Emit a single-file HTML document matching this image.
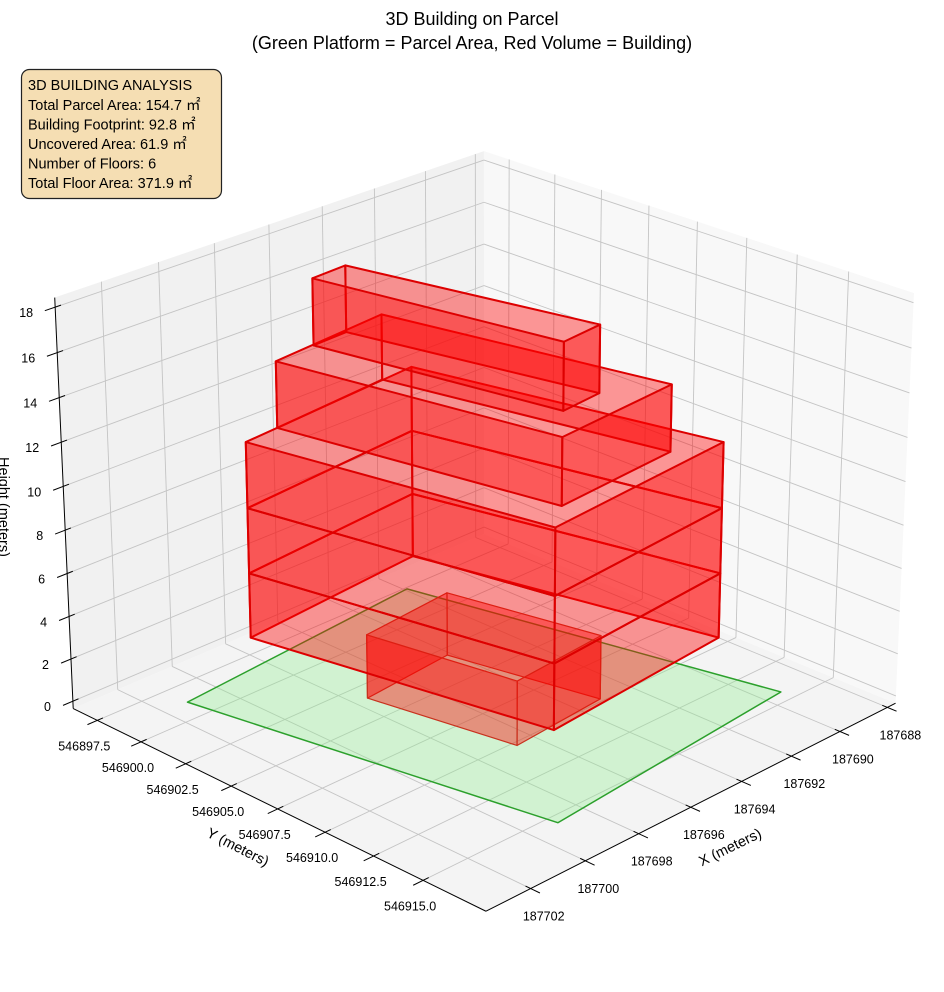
<!DOCTYPE html>
<html><head><meta charset="utf-8"><style>
html,body{margin:0;padding:0;background:#fff;}
svg{display:block;font-family:"Liberation Sans","Noto Sans CJK SC",sans-serif;}
</style></head><body>
<svg id="chart" width="944" height="992" viewBox="0 0 944 992" xmlns="http://www.w3.org/2000/svg">
<rect width="944" height="992" fill="#fff"/>
<g id="panes"></g>
<g id="grid"></g>
<g id="axes"></g>
<g id="ticks" font-size="12.5" fill="#000"></g>
<g id="marks"></g>
<text x="472" y="25" text-anchor="middle" font-size="18">3D Building on Parcel</text>
<text x="472" y="49" text-anchor="middle" font-size="18">(Green Platform = Parcel Area, Red Volume = Building)</text>
<text x="730" y="852" text-anchor="middle" font-size="14.5" transform="rotate(-26 730 847)">X (meters)</text>
<text x="238" y="852" text-anchor="middle" font-size="14.5" transform="rotate(27 238 847)">Y (meters)</text>
<text x="4" y="512" text-anchor="middle" font-size="14.5" transform="rotate(90 4 507)">Height (meters)</text>
<g>
<rect x="21.5" y="69.5" width="200" height="129" rx="8" fill="#f5deb3" stroke="#222" stroke-width="1.2"/>
<g font-size="14.5" fill="#000">
<text x="28" y="90">3D BUILDING ANALYSIS</text>
<text x="28" y="110">Total Parcel Area: 154.7 ㎡</text>
<text x="28" y="129.5">Building Footprint: 92.8 ㎡</text>
<text x="28" y="149">Uncovered Area: 61.9 ㎡</text>
<text x="28" y="168.5">Number of Floors: 6</text>
<text x="28" y="188">Total Floor Area: 371.9 ㎡</text>
</g>
</g>
</svg>
<script>
// ---- data ----
const xTicks = [187688,187690,187692,187694,187696,187698,187700,187702];
const yTicks = [546897.5,546900.0,546902.5,546905.0,546907.5,546910.0,546912.5,546915.0];
const zTicks = [0,2,4,6,8,10,12,14,16,18];
const parcelX = [187701.45,187692.24,187689.67,187699.33];
const parcelY = [546899.26,546898.07,546914.76,546915.86];
const shapeX = [
  [187697.85,187694.46,187693.44,187696.99],
  [187700.17,187693.44,187691.30,187698.35],
  [187698.94,187694.64,187692.76,187697.28],
  [187697.47,187696.20,187694.52,187696.03]
];
const shapeY = [
  [546903.89,546903.45,546910.25,546910.65],
  [546900.95,546900.13,546913.53,546914.33],
  [546900.81,546900.24,546912.73,546913.22],
  [546900.67,546900.58,546911.41,546911.61]
];
const floorShape = [0,1,1,1,2,3];
const floorBase = [0,3,6,9,12,15];
const floorTop = [3,6,9,12,15,18];

const XLIM=[187687.65,187703.6], YLIM=[546896.1,546918.1], ZLIM=[-0.35,18.42];

// ---- projection (matplotlib-like perspective), calibrated to axes box ----
function raw(x,y,z,prm){
  const [e,a,d,rx,rz]=prm;
  let AS=[4*rx,4,3*rz]; const nn=Math.hypot(AS[0],AS[1],AS[2]); AS=AS.map(v=>v*1.9056/nn);
  const bx=(x-XLIM[0])/(XLIM[1]-XLIM[0])*AS[0];
  const by=(y-YLIM[0])/(YLIM[1]-YLIM[0])*AS[1];
  const bz=(z-ZLIM[0])/(ZLIM[1]-ZLIM[0])*AS[2];
  const er=e*Math.PI/180, ar=a*Math.PI/180;
  const w=[Math.cos(er)*Math.cos(ar),Math.cos(er)*Math.sin(ar),Math.sin(er)];
  const eye=[AS[0]/2+d*w[0],AS[1]/2+d*w[1],AS[2]/2+d*w[2]];
  let u=[-w[1],w[0],0]; const un=Math.hypot(u[0],u[1]); u=[u[0]/un,u[1]/un,0];
  const v=[w[1]*u[2]-w[2]*u[1], w[2]*u[0]-w[0]*u[2], w[0]*u[1]-w[1]*u[0]];
  const p=[bx-eye[0],by-eye[1],bz-eye[2]];
  const xv=u[0]*p[0]+u[1]*p[1];
  const yv=v[0]*p[0]+v[1]*p[1]+v[2]*p[2];
  const zv=w[0]*p[0]+w[1]*p[1]+w[2]*p[2];
  return [xv/-zv, yv/-zv, zv];
}
const X0=XLIM[0],X1=XLIM[1],Y0=YLIM[0],Y1=YLIM[1],Z0=ZLIM[0],Z1=ZLIM[1];
const cal=[
 [[X1,Y0,Z0],[72,705]],
 [[X0,Y1,Z0],[897,706]],
 [[X1,Y1,Z0],[485,909]],
 [[X1,Y0,18],[57,311]],
 [[X1,Y0,8],[64,528]],
 [[X1,Y0,0],[71,698]],
 [[X0,Y0,Z1],[483,153]],
 [[X0,Y1,Z1],[913,284]],
 [[X1,Y0,Z1],[56,302]],
 [[187688,Y1,Z0],[888,710]],
 [[187702,Y1,Z0],[527,891]],
 [[X1,546897.5,Z0],[99,720]],
 [[X1,546915,Z0],[427,883]]
];
function fit(prm){
  const P=cal.map(c=>raw(c[0][0],c[0][1],c[0][2],prm));
  const n=P.length; let mpx=0,mpy=0,mX=0,mY=0;
  P.forEach((p,i)=>{mpx+=p[0];mpy+=p[1];mX+=cal[i][1][0];mY+=cal[i][1][1];});
  mpx/=n;mpy/=n;mX/=n;mY/=n;
  let num=0,den=0;
  P.forEach((p,i)=>{const ax=p[0]-mpx, ay=p[1]-mpy; num+=ax*(cal[i][1][0]-mX)-ay*(cal[i][1][1]-mY); den+=ax*ax+ay*ay;});
  const s=num/den, ox=mX-s*mpx, oy=mY+s*mpy;
  let err=0; P.forEach((p,i)=>{const X=s*p[0]+ox, Y=-s*p[1]+oy; err+=(X-cal[i][1][0])**2+(Y-cal[i][1][1])**2;});
  return {s,ox,oy,err};
}
let bestPrm=null,bestFit=null;
for(let e=15;e<=45;e+=1)for(let a=35;a<=55;a+=1)for(let d=5;d<=30;d+=1){
  const prm=[e,a,d,1,1]; const f=fit(prm);
  if(!bestFit||f.err<bestFit.err){bestFit=f;bestPrm=prm;}
}
let steps=[1,1,1,0.05,0.05];
for(let it=0;it<60;it++){
  let improved=false;
  for(let k=0;k<5;k++){
    for(const sg of [1,-1]){
      const t=bestPrm.slice(); t[k]+=sg*steps[k];
      if(t[2]<2||t[3]<0.4||t[3]>2||t[4]<0.4||t[4]>2)continue;
      const f=fit(t); if(f.err<bestFit.err){bestFit=f;bestPrm=t;improved=true;}
    }
  }
  if(!improved)steps=steps.map(s=>s/2);
}
function P(x,y,z){const r=raw(x,y,z,bestPrm);return [bestFit.s*r[0]+bestFit.ox,-bestFit.s*r[1]+bestFit.oy,r[2]];}

const NS='http://www.w3.org/2000/svg';
function mk(tag,parent,attrs){const el=document.createElementNS(NS,tag);for(const k in attrs)el.setAttribute(k,attrs[k]);parent.appendChild(el);return el;}
function pts(arr){return arr.map(p=>p[0].toFixed(2)+','+p[1].toFixed(2)).join(' ');}

// ---- panes ----
const gP=document.getElementById('panes');
let el;
el=mk('polygon',gP,{points:pts([P(X0,Y0,Z0),P(X1,Y0,Z0),P(X1,Y0,Z1),P(X0,Y0,Z1)]),fill:'#f1f1f1'});


el=mk('polygon',gP,{points:pts([P(X0,Y0,Z0),P(X0,Y1,Z0),P(X0,Y1,Z1),P(X0,Y0,Z1)]),fill:'#f8f8f8'});


el=mk('polygon',gP,{points:pts([P(X0,Y0,Z0),P(X1,Y0,Z0),P(X1,Y1,Z0),P(X0,Y1,Z0)]),fill:'#f4f4f4'});



// ---- grid ----
const gG=document.getElementById('grid');
function line(g,a,b,attrs){return mk('line',g,Object.assign({x1:a[0].toFixed(2),y1:a[1].toFixed(2),x2:b[0].toFixed(2),y2:b[1].toFixed(2)},attrs));}
const gs={stroke:'#c4c4c4','stroke-width':0.9};
xTicks.forEach(x=>{
  el=line(gG,P(x,Y0,Z0),P(x,Y1,Z0),gs);
  
  
  el=line(gG,P(x,Y0,Z0),P(x,Y0,Z1),gs);
  
  
});
yTicks.forEach(y=>{
  el=line(gG,P(X0,y,Z0),P(X1,y,Z0),gs);
  
  
  el=line(gG,P(X0,y,Z0),P(X0,y,Z1),gs);
  
  
});
zTicks.forEach(z=>{
  el=line(gG,P(X0,Y0,z),P(X1,Y0,z),gs);
  
  
  el=line(gG,P(X0,Y0,z),P(X0,Y1,z),gs);
  
  
});

// ---- axes + ticks ----
const gA=document.getElementById('axes');
const as={stroke:'#000','stroke-width':1};
el=line(gA,P(X0,Y1,Z0),P(X1,Y1,Z0),as);


el=line(gA,P(X1,Y0,Z0),P(X1,Y1,Z0),as);


el=line(gA,P(X1,Y0,Z0),P(X1,Y0,Z1),as);


const gT=document.getElementById('ticks');
xTicks.forEach(x=>{
  el=line(gA,P(x,Y1-0.25,Z0),P(x,Y1+0.45,Z0),as);
  
  
  const p=P(x,Y1,Z0);
  el=mk('text',gT,{x:(p[0]+13).toFixed(1),y:(p[1]+32).toFixed(1),'text-anchor':'middle'});
  el.textContent=String(x);
  
  
});
yTicks.forEach(y=>{
  el=line(gA,P(X1-0.2,y,Z0),P(X1+0.35,y,Z0),as);
  
  
  const p=P(X1,y,Z0);
  el=mk('text',gT,{x:(p[0]-13).toFixed(1),y:(p[1]+30).toFixed(1),'text-anchor':'middle'});
  el.textContent=y.toFixed(1);
  
  
});
zTicks.forEach(z=>{
  el=line(gA,P(X1-0.2,Y0,z),P(X1+0.35,Y0,z),as);
  
  
  const p=P(X1,Y0,z);
  el=mk('text',gT,{x:(p[0]-22).toFixed(1),y:(p[1]+10).toFixed(1),'text-anchor':'end'});
  el.textContent=String(z);
  
  
});

// ---- parcel ----
const gM=document.getElementById('marks');
el=mk('polygon',gM,{points:pts(parcelX.map((x,i)=>P(x,parcelY[i],0))),fill:'rgba(144,238,144,0.35)',stroke:'#2ca02c','stroke-width':1.5,'stroke-linejoin':'round'});



// ---- building floors (walls) ----
const faces=[];
floorShape.forEach((si,fi)=>{
  const xs=shapeX[si], ys=shapeY[si], n=xs.length;
  for(let k=0;k<n;k++){
    const j=(k+1)%n;
    const q=[P(xs[k],ys[k],floorBase[fi]),P(xs[j],ys[j],floorBase[fi]),P(xs[j],ys[j],floorTop[fi]),P(xs[k],ys[k],floorTop[fi])];
    const depth=(q[0][2]+q[1][2]+q[2][2]+q[3][2])/4;
    faces.push({q,depth,fi});
  }
});
faces.sort((a,b)=>a.depth-b.depth);
faces.forEach(f=>{
  const ground=f.fi===0;
  el=mk('polygon',gM,{points:pts(f.q),fill:'rgba(255,0,0,0.4)',stroke:ground?'#c8321e':'#dd0000','stroke-width':ground?1.2:2,'stroke-linejoin':'round'});
  
  
});
</script>
</body></html>
